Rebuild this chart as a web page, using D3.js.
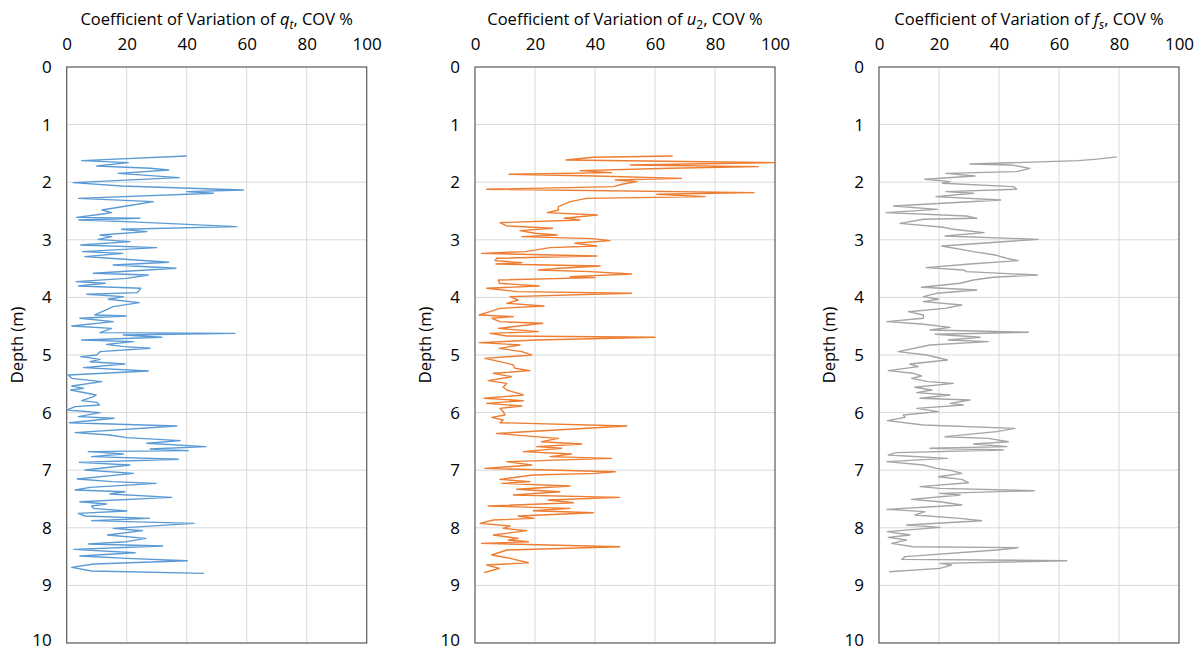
<!DOCTYPE html>
<html>
<head>
<meta charset="utf-8">
<script src="https://cdn.jsdelivr.net/npm/d3@7"></script>
<style>
  body { margin: 0; background: #fff; }
  text { font-family: "Open Sans", "Noto Sans", sans-serif; fill: #000; }
</style>
</head>
<body>
<div id="chart"></div>
<script>
// tick labels
const xTicks = [0, 20, 40, 60, 80, 100];
const yTicks = [0, 1, 2, 3, 4, 5, 6, 7, 8, 9, 10];

// COV of qt
const qtDepth = [1.545, 1.626, 1.661, 1.718, 1.759, 1.788, 1.846, 1.921, 2.008, 2.066, 2.135, 2.164, 2.193, 2.28, 2.338, 2.395, 2.482, 2.529, 2.552, 2.61, 2.627, 2.656, 2.685, 2.772, 2.818, 2.858, 2.916, 2.945, 2.992, 3.032, 3.09, 3.136, 3.206, 3.235, 3.292, 3.321, 3.391, 3.437, 3.495, 3.582, 3.611, 3.669, 3.726, 3.755, 3.802, 3.842, 3.917, 3.946, 3.987, 4.033, 4.091, 4.161, 4.305, 4.323, 4.363, 4.421, 4.496, 4.537, 4.612, 4.624, 4.653, 4.693, 4.739, 4.768, 4.815, 4.855, 4.884, 4.942, 5.0, 5.029, 5.075, 5.116, 5.156, 5.22, 5.278, 5.347, 5.405, 5.463, 5.538, 5.579, 5.608, 5.694, 5.723, 5.793, 5.822, 5.868, 5.897, 5.955, 6.001, 6.07, 6.099, 6.175, 6.233, 6.348, 6.389, 6.435, 6.487, 6.533, 6.591, 6.632, 6.66, 6.678, 6.719, 6.765, 6.811, 6.864, 6.91, 6.997, 7.055, 7.153, 7.199, 7.228, 7.298, 7.344, 7.373, 7.413, 7.471, 7.547, 7.587, 7.622, 7.662, 7.709, 7.749, 7.795, 7.836, 7.876, 7.923, 8.01, 8.05, 8.125, 8.183, 8.241, 8.282, 8.316, 8.374, 8.432, 8.49, 8.53, 8.571, 8.629, 8.687, 8.75, 8.791];
const qtCov = [40, 5, 20.5, 10, 27.8, 34, 17.2, 37.5, 2.2, 18.3, 58.9, 40, 48.9, 3.9, 28.9, 22, 11.7, 15, 12, 3.3, 24.4, 4, 20, 56.7, 18.3, 26.7, 11.1, 15, 10.5, 21.1, 4.7, 30, 5.3, 18.7, 6.1, 14.4, 34, 15.5, 36.4, 8.9, 27.2, 20, 3.1, 12.8, 3.9, 24.7, 23.5, 6.7, 18.9, 13.9, 24.2, 15.5, 9.4, 19.8, 4.4, 15.5, 1.7, 15, 11.1, 56.1, 18.9, 31.7, 5, 22.2, 13.3, 19, 27.8, 11.1, 10, 4.7, 11.1, 7.8, 19.4, 5.6, 27.2, 0.5, 1.7, 11.7, 1.7, 5.6, 1.3, 9.8, 8.9, 5, 10, 10.9, 2.8, 0.2, 11.1, 3.9, 15.8, 0.9, 36.7, 2.8, 14.4, 20, 37.8, 26.7, 46.4, 27.8, 40.5, 7.2, 18.9, 8.3, 37.2, 4.2, 21.1, 6.1, 22.2, 3.5, 15, 29.8, 7.8, 2.8, 19.4, 14.4, 35, 4.4, 13.3, 8.3, 8.9, 20, 3.9, 6.1, 27.6, 8.3, 42.4, 15.6, 25.3, 13.6, 26.4, 20, 7.2, 32, 2.4, 22.8, 4.4, 20, 40.2, 9, 1.7, 8.3, 45.8];

// COV of u2
const u2Depth = [1.545, 1.568, 1.614, 1.66, 1.701, 1.73, 1.759, 1.799, 1.834, 1.863, 1.892, 1.933, 1.961, 1.99, 2.031, 2.077, 2.123, 2.181, 2.21, 2.251, 2.28, 2.338, 2.424, 2.482, 2.529, 2.569, 2.627, 2.656, 2.702, 2.76, 2.8, 2.841, 2.887, 2.916, 2.945, 2.98, 3.015, 3.061, 3.107, 3.136, 3.206, 3.235, 3.281, 3.321, 3.362, 3.397, 3.42, 3.454, 3.495, 3.524, 3.553, 3.593, 3.64, 3.657, 3.698, 3.755, 3.802, 3.842, 3.9, 3.929, 3.987, 4.045, 4.103, 4.149, 4.19, 4.248, 4.305, 4.334, 4.363, 4.421, 4.45, 4.496, 4.537, 4.595, 4.624, 4.67, 4.693, 4.739, 4.786, 4.826, 4.884, 4.942, 5.0, 5.058, 5.116, 5.173, 5.231, 5.272, 5.318, 5.376, 5.445, 5.492, 5.561, 5.608, 5.694, 5.752, 5.793, 5.839, 5.885, 5.926, 5.984, 6.042, 6.082, 6.128, 6.175, 6.233, 6.36, 6.418, 6.447, 6.505, 6.545, 6.591, 6.62, 6.678, 6.719, 6.765, 6.794, 6.852, 6.91, 6.968, 7.026, 7.055, 7.084, 7.159, 7.199, 7.228, 7.275, 7.332, 7.373, 7.431, 7.471, 7.518, 7.564, 7.622, 7.662, 7.703, 7.738, 7.795, 7.836, 7.865, 7.923, 7.969, 8.01, 8.05, 8.125, 8.183, 8.212, 8.241, 8.27, 8.328, 8.386, 8.472, 8.53, 8.606, 8.646, 8.704, 8.733, 8.779];
const u2Cov = [65.9, 39.4, 30.3, 100, 51.7, 94.4, 65, 35, 45.6, 11.4, 40, 68.9, 46.7, 53.9, 49.4, 46.1, 3.9, 93, 60.6, 76.7, 37.2, 31.7, 27.8, 27.8, 24.1, 40.8, 29.7, 35, 8.3, 10.6, 25.9, 15, 20, 27.4, 15.6, 39.2, 45, 33.3, 40.6, 25, 16.7, 2.2, 40.6, 7.2, 6.7, 15.6, 7, 41.7, 28.3, 21.1, 38.3, 52.2, 31.7, 40, 7.8, 8.1, 21.4, 3.9, 14, 52.2, 11.7, 14.4, 10.6, 23, 8.3, 5, 1.4, 12.8, 5.6, 8.3, 22.6, 14.4, 7.8, 21.1, 5, 10.6, 60, 20.6, 1.4, 15, 8.1, 15.6, 18.9, 3.3, 8.3, 12.8, 13.3, 18.3, 6.1, 12.2, 4.4, 10.6, 9.4, 10.6, 16.1, 3, 16.1, 3.9, 15.6, 8.3, 9.4, 10, 5.6, 9.4, 8.3, 50.6, 7.2, 20, 27.8, 22.2, 35.6, 20.6, 28.9, 16.1, 32.2, 25, 45.6, 10.6, 18.9, 3.3, 46.7, 40, 19.4, 8.3, 18.3, 8.9, 31.7, 13.9, 28.3, 12.8, 48.3, 24.4, 32.8, 4.4, 31.7, 19.4, 39.4, 14.4, 19.7, 6.1, 1.7, 11.7, 9.4, 17.2, 6.1, 14.4, 11.1, 17.8, 2.2, 48.3, 10.6, 5.6, 11.7, 17.8, 3.9, 8.1, 6.1, 3];

// COV of fs
const fsDepth = [1.56, 1.6, 1.626, 1.684, 1.701, 1.759, 1.817, 1.846, 1.892, 1.95, 1.99, 2.019, 2.077, 2.123, 2.164, 2.193, 2.251, 2.309, 2.413, 2.471, 2.529, 2.586, 2.627, 2.644, 2.714, 2.783, 2.818, 2.876, 2.934, 2.992, 3.107, 3.206, 3.263, 3.321, 3.362, 3.42, 3.483, 3.524, 3.553, 3.611, 3.651, 3.698, 3.755, 3.825, 3.871, 3.929, 3.987, 4.033, 4.074, 4.132, 4.19, 4.248, 4.305, 4.363, 4.421, 4.462, 4.52, 4.566, 4.606, 4.641, 4.693, 4.739, 4.768, 4.826, 4.942, 5.0, 5.087, 5.156, 5.202, 5.272, 5.318, 5.364, 5.405, 5.463, 5.492, 5.561, 5.608, 5.654, 5.694, 5.752, 5.781, 5.839, 5.868, 5.926, 5.984, 6.042, 6.082, 6.14, 6.215, 6.273, 6.331, 6.418, 6.447, 6.505, 6.545, 6.591, 6.62, 6.649, 6.695, 6.736, 6.794, 6.852, 6.91, 6.968, 7.008, 7.055, 7.113, 7.159, 7.217, 7.286, 7.315, 7.356, 7.402, 7.431, 7.506, 7.547, 7.604, 7.68, 7.72, 7.778, 7.836, 7.877, 7.952, 7.992, 8.067, 8.125, 8.166, 8.212, 8.27, 8.328, 8.345, 8.386, 8.501, 8.548, 8.571, 8.617, 8.646, 8.704, 8.762];
const fsCov = [79.3, 72.7, 66.4, 30.3, 44.2, 50.3, 45.9, 22.3, 32, 15.3, 23.7, 21.2, 44.8, 45.9, 22.3, 31.5, 19, 40.6, 4.8, 19.4, 2.3, 29.2, 32.6, 14.8, 7, 21.4, 24.8, 35, 22, 53.1, 20.9, 31.5, 38.7, 42.5, 46.4, 30.3, 15.7, 28.1, 29.2, 52.8, 38, 31.5, 27, 14.2, 32.6, 19.2, 14.8, 19.8, 14.8, 27.6, 22, 9.8, 14.8, 14.8, 2.6, 14.2, 23.7, 17, 49.8, 18.7, 33.7, 23.1, 36.4, 17, 6.4, 15.9, 22.8, 10.3, 13.1, 3.1, 11.4, 14.2, 10.9, 16.4, 24.8, 12, 17.6, 12.6, 23.7, 13.7, 30.3, 23.7, 28.1, 12.6, 19.8, 8.1, 8.7, 2.8, 14.8, 45.3, 39.2, 22, 36.4, 43.1, 31.5, 42.6, 17, 41.4, 5.9, 3.1, 22.8, 2.6, 14.8, 19.2, 24.2, 27.6, 19.8, 27.6, 29.8, 13.7, 20.3, 51.7, 20.3, 27, 10.9, 20.3, 27.6, 2.6, 15.3, 12, 27, 34.2, 9.2, 20.3, 2.8, 10.3, 3.1, 9.2, 4.2, 11.4, 46.4, 39.2, 8.7, 7.6, 62.6, 20.3, 24.2, 20.3, 3.4];

const width = 1201, height = 650;
const svg = d3.select('#chart').append('svg')
  .attr('width', width)
  .attr('height', height);

const plotTop = 67, plotH = 576, plotW = 300;

const panels = [
  { left: 66.7, depth: qtDepth, cov: qtCov, color: '#5B9BD5', sym: 'q', sub: 't', subItalic: true },
  { left: 475, depth: u2Depth, cov: u2Cov, color: '#ED7D31', sym: 'u', sub: '2', subItalic: false },
  { left: 879, depth: fsDepth, cov: fsCov, color: '#A5A5A5', sym: 'f', sub: 's', subItalic: true }
];

const y = d3.scaleLinear().domain([0, 10]).range([plotTop, plotTop + plotH]);

panels.forEach(function(p) {
  const x = d3.scaleLinear().domain([0, 100]).range([p.left, p.left + plotW]);
  const g = svg.append('g');

  // gridlines
  g.append('g').selectAll('line.v')
    .data(xTicks.slice(1, -1))
    .enter().append('line')
    .attr('x1', d => x(d)).attr('x2', d => x(d))
    .attr('y1', plotTop).attr('y2', plotTop + plotH)
    .attr('stroke', '#d9d9d9').attr('stroke-width', 1);
  g.append('g').selectAll('line.h')
    .data(yTicks.slice(1, -1))
    .enter().append('line')
    .attr('x1', p.left).attr('x2', p.left + plotW)
    .attr('y1', d => y(d)).attr('y2', d => y(d))
    .attr('stroke', '#d9d9d9').attr('stroke-width', 1);

  // frame
  g.append('rect')
    .attr('x', p.left).attr('y', plotTop)
    .attr('width', plotW).attr('height', plotH)
    .attr('fill', 'none').attr('stroke', '#595959').attr('stroke-width', 1.2);

  // top axis labels
  const xAxis = d3.axisTop(x).tickValues(xTicks).tickSize(0).tickPadding(0);
  const xa = g.append('g').attr('transform', 'translate(0,50)').call(xAxis);
  xa.select('.domain').remove();
  xa.selectAll('text').attr('font-size', 17).attr('font-family', '"Open Sans", sans-serif').attr('fill', '#000');

  // left axis labels
  const yAxis = d3.axisLeft(y).tickValues(yTicks).tickSize(0).tickPadding(0);
  const ya = g.append('g').attr('transform', 'translate(' + (p.left - 15) + ',0)').call(yAxis);
  ya.select('.domain').remove();
  ya.selectAll('text').attr('font-size', 17).attr('font-family', '"Open Sans", sans-serif').attr('fill', '#000');
  // keep the last label inside the picture
  ya.selectAll('.tick').filter(d => d === 10).select('text').attr('y', -3);

  // axis titles
  const t = g.append('text')
    .attr('x', p.left + plotW / 2).attr('y', 25)
    .attr('text-anchor', 'middle')
    .attr('font-size', 16.5);
  t.append('tspan').text('Coefficient of Variation of ');
  t.append('tspan').attr('font-style', 'italic').text(p.sym);
  t.append('tspan').attr('font-size', 12).attr('dy', 4)
    .attr('font-style', p.subItalic ? 'italic' : 'normal').text(p.sub);
  t.append('tspan').attr('dy', -4).text(', COV %');

  g.append('text')
    .attr('transform', 'translate(' + (p.left - 44) + ',' + (plotTop + plotH / 2 - 10) + ') rotate(-90)')
    .attr('text-anchor', 'middle')
    .attr('font-size', 16.5)
    .text('Depth (m)');

  // trace
  const line = d3.line()
    .x(d => x(d[1]))
    .y(d => y(d[0]));
  g.append('path')
    .datum(d3.zip(p.depth, p.cov))
    .attr('d', line)
    .attr('fill', 'none')
    .attr('stroke', p.color)
    .attr('stroke-width', 1.4)
    .attr('stroke-linejoin', 'round');
});
</script>
</body>
</html>
